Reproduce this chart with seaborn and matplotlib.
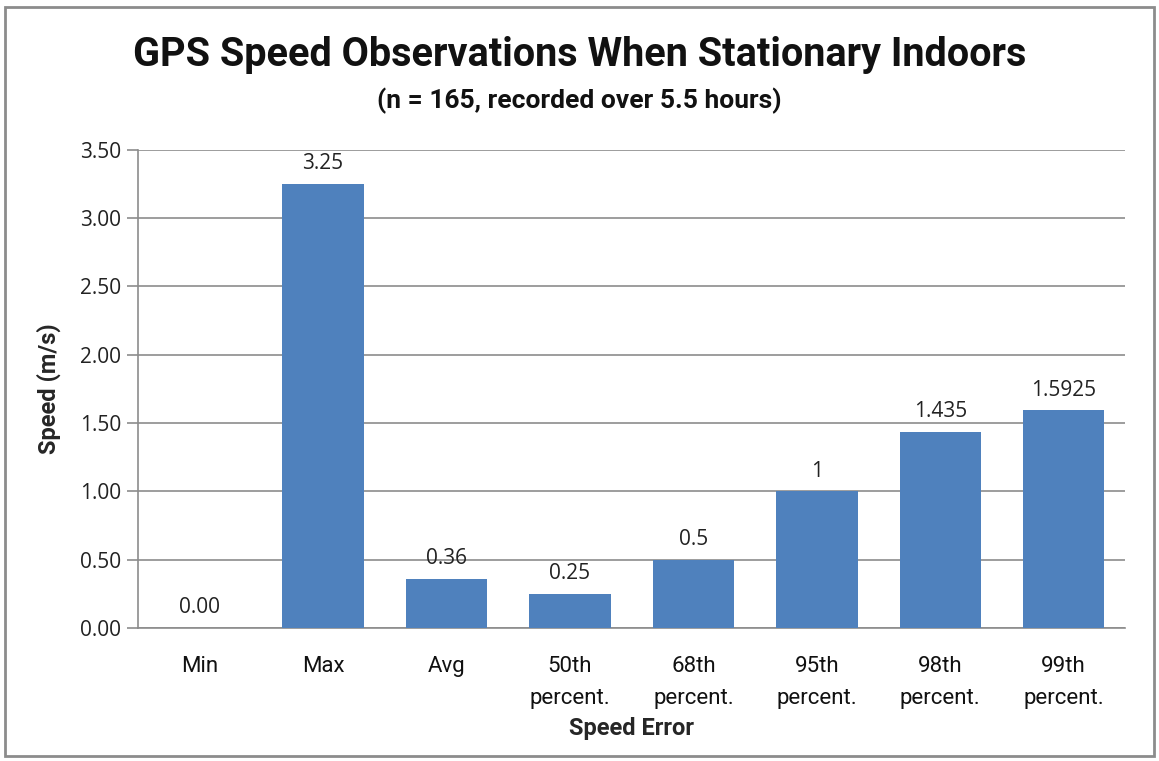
import matplotlib
matplotlib.use("Agg")
import matplotlib.pyplot as plt
from matplotlib.patches import Rectangle
from matplotlib import font_manager
import seaborn as sns
import pandas as pd

categories = ["Min", "Max", "Avg", "50th\npercent.", "68th\npercent.",
              "95th\npercent.", "98th\npercent.", "99th\npercent."]
speeds = [0.00, 3.25, 0.36, 0.25, 0.50, 1.00, 1.435, 1.5925]
value_labels = ["0.00", "3.25", "0.36", "0.25", "0.5", "1", "1.435", "1.5925"]
y_ticks = [0.0, 0.5, 1.0, 1.5, 2.0, 2.5, 3.0, 3.5]

sns.set_theme(style="white")

installed = {f.name for f in font_manager.fontManager.ttflist}
narrow = "Liberation Sans Narrow" if "Liberation Sans Narrow" in installed else "Roboto"
plt.rcParams["font.family"] = [narrow, "DejaVu Sans"]

df = pd.DataFrame({"category": categories, "speed": speeds})

fig = plt.figure(figsize=(11.59, 7.61), dpi=100)
ax = fig.add_axes([0.119, 0.175, 0.852, 0.628])

sns.barplot(data=df, x="category", y="speed", color="#4F81BD",
            saturation=1, width=0.66, linewidth=0, ax=ax, zorder=3)

ax.set_ylim(0, 3.5)
ax.set_yticks(y_ticks)
ax.set_yticklabels([f"{t:.2f}" for t in y_ticks], fontsize=15,
                   family=["Open Sans", "DejaVu Sans"], color="#222222")
ax.set_xticks(range(len(categories)))
ax.set_xticklabels(categories, fontsize=16, color="#111111", linespacing=1.7)
ax.tick_params(axis="x", length=0, pad=20)
ax.tick_params(axis="y", length=8, width=1.2, color="#8c8c8c", direction="out", pad=4, left=True)

ax.yaxis.grid(True, color="#8c8c8c", linewidth=1.2, zorder=0)
ax.set_axisbelow(True)
for side in ["top", "right"]:
    ax.spines[side].set_visible(False)
for side in ["left", "bottom"]:
    ax.spines[side].set_color("#8c8c8c")
    ax.spines[side].set_linewidth(1.2)

ax.set_xlabel("Speed Error", fontsize=17, fontweight="bold", labelpad=6)
ax.set_ylabel("Speed (m/s)", fontsize=17, fontweight="bold", labelpad=14)

for bar, lab in zip(ax.patches, value_labels):
    ax.annotate(lab, (bar.get_x() + bar.get_width() / 2, bar.get_height()),
                xytext=(0, 7), textcoords="offset points", ha="center",
                va="bottom", fontsize=15, family=["Open Sans", "DejaVu Sans"],
                color="#222222")

fig.text(0.5, 0.928, "GPS Speed Observations When Stationary Indoors",
         ha="center", va="center", fontsize=28.5, fontweight="bold", color="#111111")
fig.text(0.5, 0.868, "(n = 165, recorded over 5.5 hours)",
         ha="center", va="center", fontsize=19, fontweight="bold", color="#111111")

fig.patches.append(Rectangle((0.004, 0.006), 0.992, 0.985, transform=fig.transFigure,
                             fill=False, edgecolor="#8c8c8c", linewidth=2))

fig.savefig("out.png", dpi=100)
